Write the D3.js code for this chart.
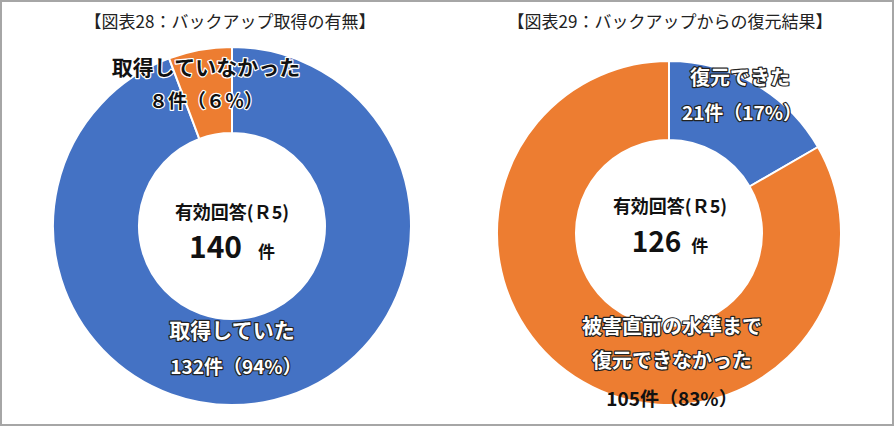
<!DOCTYPE html><html><head><meta charset="utf-8"><script src="https://d3js.org/d3.v7.min.js"></script>
<style>body{margin:0;background:#fff}</style></head><body><svg id="c" width="894" height="426"></svg>
<script>
const titles=["【図表28：バックアップ取得の有無】","【図表29：バックアップからの復元結果】"];
const leftCats=["取得していた","取得していなかった"];
const leftVals=[132,8];
const rightCats=["復元できた","被害直前の水準まで復元できなかった"];
const rightVals=[21,105];
const totals=[140,126];
const colors=["#4472C4","#ED7D31"];
const F="'Noto Sans CJK JP','Noto Sans',sans-serif";
const svg=d3.select("#c");
svg.append("rect").attr("x",1).attr("y",1).attr("width",892).attr("height",424).attr("fill","#fff").attr("stroke","#a6a6a6").attr("stroke-width",2);
function donut(cx,cy,r,ri,vals){
  const pie=d3.pie().sort(null)(vals);
  const arc=d3.arc().innerRadius(ri).outerRadius(r);
  const g=svg.append("g").attr("transform",`translate(${cx},${cy})`);
  g.selectAll("path").data(pie).join("path").attr("d",arc).attr("fill",(d,i)=>colors[i]).attr("stroke","#fff").attr("stroke-width",2);
}
donut(232,226,179,93,leftVals);
donut(669,233,172,93,rightVals);
const fw=s=>String(s).replace(/[0-9]/g,c=>String.fromCharCode(c.charCodeAt(0)+0xFEE0));
function txt(x,y,s,size,opt={}){
  const t=svg.append("text").attr("x",x).attr("y",y).attr("text-anchor","middle").attr("font-family",opt.font||F)
   .attr("font-size",size).attr("font-weight",opt.w||"bold").attr("fill",opt.fill||"#111").text(s);
  if(opt.outline) t.attr("stroke",opt.outline).attr("stroke-width",2.4).attr("paint-order","stroke").attr("stroke-linejoin","round");
  return t;
}
txt(230,28,titles[0],17,{w:"normal",fill:"#222"});
txt(670,28,titles[1],17,{w:"normal",fill:"#222"});
// left
txt(206,75,leftCats[1],21,{fill:"#111",outline:"#fff"});
txt(206,108,`${fw(leftVals[1])}件（${fw(Math.round(leftVals[1]/totals[0]*100))}％）`,19,{fill:"#111",outline:"#fff"});
txt(232,338,leftCats[0],21,{fill:"#fff",outline:"#222"});
txt(236,374,`${leftVals[0]}件（${Math.round(leftVals[0]/totals[0]*100)}%）`,19,{fill:"#fff",outline:"#222"});
txt(232,219,"有効回答(Ｒ5)",18);
svg.append("text").attr("x",232).attr("y",258).attr("text-anchor","middle").attr("font-family",F).attr("font-weight","bold").attr("fill","#111")
 .call(t=>{t.append("tspan").attr("font-size",30).text(totals[0]);t.append("tspan").attr("font-size",17).attr("dx",16).text("件");});
// right
txt(740,85,"復元できた",20,{fill:"#fff",outline:"#222"});
txt(742,120,`${rightVals[0]}件（${Math.round(rightVals[0]/totals[1]*100)}%）`,19,{fill:"#fff",outline:"#222"});
txt(672,334,"被害直前の水準まで",20,{fill:"#fff",outline:"#222"});
txt(672,368,"復元できなかった",20,{fill:"#fff",outline:"#222"});
txt(672,406,`${rightVals[1]}件（${Math.round(rightVals[1]/totals[1]*100)}%）`,19,{fill:"#111"});
txt(670,213,"有効回答(Ｒ5)",18);
svg.append("text").attr("x",670).attr("y",252).attr("text-anchor","middle").attr("font-family",F).attr("font-weight","bold").attr("fill","#111")
 .call(t=>{t.append("tspan").attr("font-size",28).text(totals[1]);t.append("tspan").attr("font-size",17).attr("dx",10).text("件");});
</script></body></html>
